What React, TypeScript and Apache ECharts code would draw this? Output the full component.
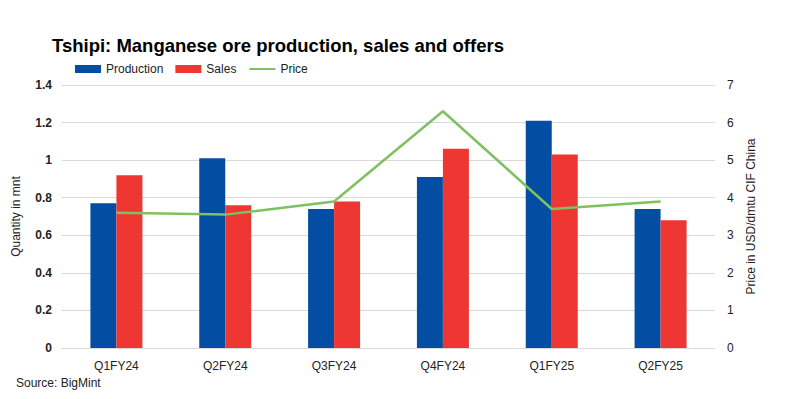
import React, { useEffect, useRef } from "react";
import * as echarts from "echarts";

const categories = ["Q1FY24", "Q2FY24", "Q3FY24", "Q4FY24", "Q1FY25", "Q2FY25"];
const production = [0.77, 1.01, 0.74, 0.91, 1.21, 0.74];
const sales = [0.92, 0.76, 0.78, 1.06, 1.03, 0.68];
const price = [3.6, 3.55, 3.9, 6.3, 3.7, 3.9];

const FONT = "'Liberation Sans', Arial, sans-serif";

export default function App() {
  const ref = useRef<HTMLDivElement>(null);
  useEffect(() => {
    if (!ref.current) return;
    const chart = echarts.init(ref.current, null, { renderer: "svg" });
    chart.setOption({
      animation: false,
      backgroundColor: "#ffffff",
      textStyle: { fontFamily: FONT },
      title: {
        text: "Tshipi: Manganese ore production, sales and offers",
        left: 47,
        top: 31,
        textStyle: { fontFamily: FONT, fontSize: 18.5, fontWeight: "bold", color: "#000" },
      },
      legend: {
        left: 70,
        top: 58,
        itemWidth: 26,
        itemHeight: 8,
        itemGap: 12,
        textStyle: { fontFamily: FONT, fontSize: 12, color: "#222" },
        data: [
          { name: "Production", icon: "rect" },
          { name: "Sales", icon: "rect" },
          { name: "Price", itemStyle: { opacity: 0 } },
        ],
      },
      grid: { left: 62, right: 74, top: 85, bottom: 51, containLabel: false },
      xAxis: {
        type: "category",
        data: categories,
        axisLine: { show: true, lineStyle: { color: "#d9d9d9" } },
        axisTick: { show: false },
        axisLabel: { color: "#222", fontSize: 12, fontFamily: FONT, margin: 12 },
      },
      yAxis: [
        {
          type: "value",
          min: 0,
          max: 1.4,
          interval: 0.2,
          name: "Quantity in mnt",
          nameLocation: "middle",
          nameGap: 40,
          nameTextStyle: { fontSize: 12, color: "#222", fontFamily: FONT },
          axisLabel: {
            color: "#222",
            fontSize: 12,
            fontWeight: "bold",
            fontFamily: FONT,
            margin: 10,
            formatter: (v: number) => String(Math.round(v * 10) / 10),
          },
          splitLine: { lineStyle: { color: "#d9d9d9" } },
          axisLine: { show: false },
          axisTick: { show: false },
        },
        {
          type: "value",
          min: 0,
          max: 7,
          interval: 1,
          name: "Price in USD/dmtu CIF China",
          nameLocation: "middle",
          nameGap: 30,
          nameRotate: 90,
          nameTextStyle: { fontSize: 12, color: "#222", fontFamily: FONT },
          axisLabel: { color: "#222", fontSize: 12, fontFamily: FONT, margin: 12 },
          splitLine: { show: false },
          axisLine: { show: false },
          axisTick: { show: false },
        },
      ],
      series: [
        {
          name: "Production",
          type: "bar",
          data: production,
          barWidth: 26,
          barGap: "0%",
          itemStyle: { color: "#034EA2" },
        },
        {
          name: "Sales",
          type: "bar",
          data: sales,
          barWidth: 26,
          barGap: "0%",
          itemStyle: { color: "#EE3733" },
        },
        {
          name: "Price",
          type: "line",
          yAxisIndex: 1,
          data: price,
          symbol: "none",
          showSymbol: false,
          lineStyle: { color: "#7DC160", width: 2.5 },
          itemStyle: { color: "#7DC160" },
        },
      ],
      graphic: [
        {
          type: "text",
          left: 16,
          top: 377,
          style: { text: "Source: BigMint", fontSize: 12, fill: "#222", fontFamily: FONT },
        },
      ],
    });
    return () => chart.dispose();
  }, []);
  return <div ref={ref} style={{ width: 789, height: 399, margin: -8 }} />;
}
